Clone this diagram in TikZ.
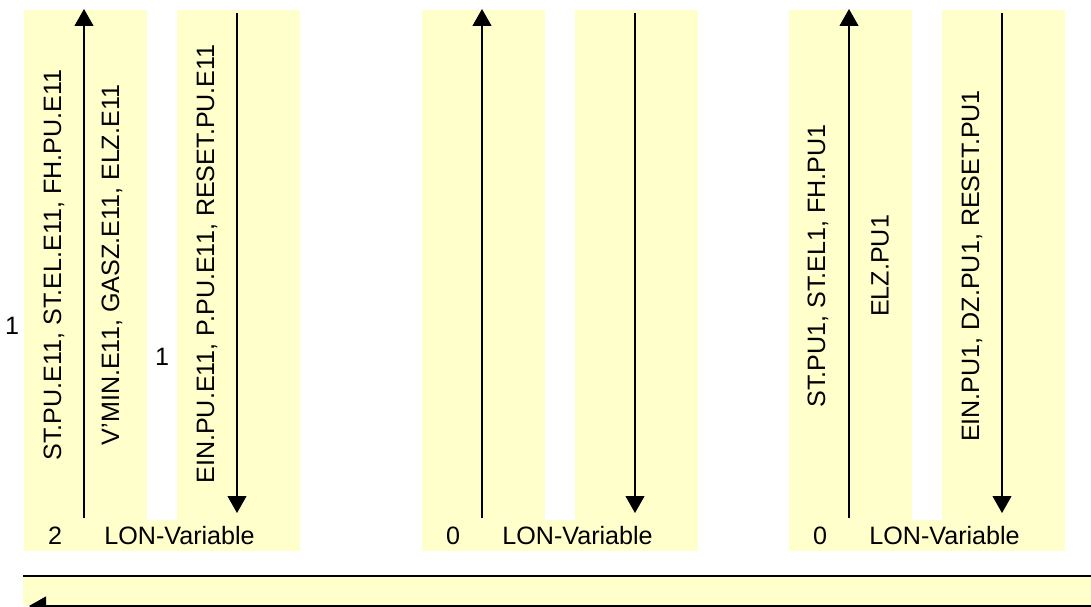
\documentclass[tikz,border=0pt]{standalone}
\usepackage{fontspec}
\setmainfont{Liberation Sans}
\usetikzlibrary{arrows.meta}

\definecolor{lonyellow}{RGB}{255,255,204}

\begin{document}
\begin{tikzpicture}[
  col/.style={fill=lonyellow, draw=none},
  sig/.style={font=\fontsize{14.3}{16}\selectfont, inner sep=0pt},
  vsig/.style={sig, rotate=90, anchor=center},
  flow/.style={-{Triangle[length=0.34cm, width=0.38cm]}, line width=0.6pt}
]
\useasboundingbox (0,0) rectangle (21.82,12.12);

% yellow columns
\fill[col] (0.48,1.10) rectangle (2.94,11.92);
\fill[col] (3.54,1.10) rectangle (6.00,11.92);
\fill[col] (2.94,1.10) rectangle (3.54,1.72);
\fill[col] (8.44,1.10) rectangle (10.90,11.92);
\fill[col] (11.50,1.10) rectangle (13.96,11.92);
\fill[col] (10.90,1.10) rectangle (11.50,1.72);
\fill[col] (15.78,1.10) rectangle (18.24,11.92);
\fill[col] (18.84,1.10) rectangle (21.30,11.92);
\fill[col] (18.24,1.10) rectangle (18.84,1.72);

% bottom band
\fill[col] (0.46,0) rectangle (21.82,0.60);
\draw[line width=1.2pt] (0.46,0.60) -- (21.82,0.60);
\coordinate (bandR) at (21.90,0);
\coordinate (bandL) at (0.58,0);
\begin{scope}
  \clip (0,0) rectangle (21.82,12.12);
  \draw[flow] (bandR) -- (bandL);
\end{scope}

% first group
\coordinate (upA0) at (1.68,1.76);
\coordinate (upA1) at (1.68,11.94);
\coordinate (dnA0) at (4.74,11.86);
\coordinate (dnA1) at (4.74,1.86);
\draw[flow] (upA0) -- (upA1);
\draw[flow] (dnA0) -- (dnA1);
\node[vsig] (stA) at (1.08,6.82) {ST.PU.E11, ST.EL.E11, FH.PU.E11};
\node[vsig] (vminA) at (2.24,6.82) {V'MIN.E11, GASZ.E11, ELZ.E11};
\node[vsig] (einA) at (4.14,6.84) {EIN.PU.E11, P.PU.E11, RESET.PU.E11};
\node[sig] (oneA) at (0.24,5.60) {1};
\node[sig] (oneB) at (3.24,4.98) {1};
\node[sig] (cntA) at (1.10,1.40) {2};
\node[sig, anchor=west] (lonA) at (2.08,1.40) {LON-Variable};

% second group
\coordinate (upB0) at (9.64,1.76);
\coordinate (upB1) at (9.64,11.94);
\coordinate (dnB0) at (12.70,11.86);
\coordinate (dnB1) at (12.70,1.86);
\draw[flow] (upB0) -- (upB1);
\draw[flow] (dnB0) -- (dnB1);
\node[sig] (cntB) at (9.06,1.40) {0};
\node[sig, anchor=west] (lonB) at (10.04,1.40) {LON-Variable};

% third group
\coordinate (upC0) at (16.98,1.76);
\coordinate (upC1) at (16.98,11.94);
\coordinate (dnC0) at (20.04,11.86);
\coordinate (dnC1) at (20.04,1.86);
\draw[flow] (upC0) -- (upC1);
\draw[flow] (dnC0) -- (dnC1);
\node[vsig] (stC) at (16.36,6.80) {ST.PU1, ST.EL1, FH.PU1};
\node[vsig] (elzC) at (17.60,6.80) {ELZ.PU1};
\node[vsig] (einC) at (19.44,6.80) {EIN.PU1, DZ.PU1, RESET.PU1};
\node[sig] (cntC) at (16.40,1.40) {0};
\node[sig, anchor=west] (lonC) at (17.38,1.40) {LON-Variable};

\end{tikzpicture}
\end{document}
